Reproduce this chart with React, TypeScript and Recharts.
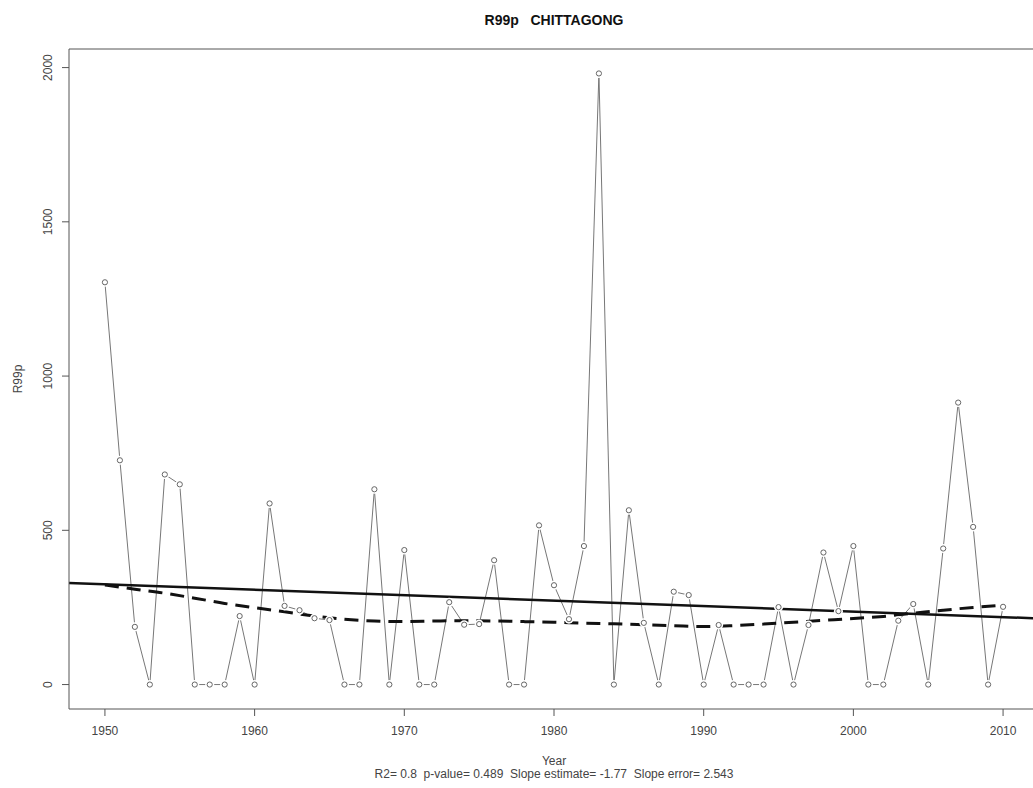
import React from "react";
import { LineChart, Line, XAxis, YAxis, ReferenceLine } from "recharts";

const FONT = '"Liberation Sans", Arial, Helvetica, sans-serif';

const FIRST_YEAR = 1950;

// annual R99p totals, 1950-2010
const R99P = [
  1304, 727, 187, 0, 681, 649, 0, 0, 0, 222,
  0, 587, 255, 241, 215, 209, 0, 0, 633, 0,
  436, 0, 0, 267, 194, 196, 403, 0, 0, 516,
  322, 212, 449, 1981, 0, 565, 200, 0, 301, 290,
  0, 193, 0, 0, 0, 251, 0, 193, 428, 238,
  449, 0, 0, 207, 261, 0, 441, 914, 511, 0,
  252,
];

// smoothed curve (dashed)
const SMOOTH_YEARS = [
  1950, 1952, 1954, 1956, 1958, 1960, 1962, 1964, 1966, 1968, 1970,
  1972, 1974, 1976, 1978, 1980, 1982, 1984, 1986, 1988, 1990,
  1992, 1994, 1996, 1998, 2000, 2002, 2004, 2006, 2008, 2010,
];
const SMOOTH_VALUES = [
  323, 309, 296, 280, 263, 249, 236, 222, 212, 206, 204,
  206, 207, 206, 204, 202, 199, 197, 194, 191, 188,
  191, 196, 202, 208, 214, 221, 231, 241, 250, 257,
];

const X_TICKS = [1950, 1960, 1970, 1980, 1990, 2000, 2010];
const Y_TICKS = [0, 500, 1000, 1500, 2000];

const TREND_SLOPE = -1.77;
const SUBTITLE =
  "R2= 0.8  p-value= 0.489  Slope estimate= -1.77  Slope error= 2.543";

const YEARS = R99P.map((_, i) => FIRST_YEAR + i);
const seriesData = YEARS.map((year, i) => ({ year, value: R99P[i] }));
const smoothData = SMOOTH_YEARS.map((year, i) => ({
  year,
  smooth: SMOOTH_VALUES[i],
}));

// R-style axis ranges: data range padded by 4% on each side
const pad = (lo: number, hi: number): [number, number] => {
  const d = (hi - lo) * 0.04;
  return [lo - d, hi + d];
};
const X_DOMAIN = pad(YEARS[0], YEARS[YEARS.length - 1]);
const Y_DOMAIN = pad(Math.min(...R99P), Math.max(...R99P));

// least-squares line through the means with the reported slope
const meanYear = YEARS.reduce((a, b) => a + b, 0) / YEARS.length;
const meanValue = R99P.reduce((a, b) => a + b, 0) / R99P.length;
const trendData = X_DOMAIN.map((year) => ({
  year,
  trend: meanValue + TREND_SLOPE * (year - meanYear),
}));

const AXIS = "#555";

// open circle with a white halo so the line stops short of each point
const PointDot = (props: any) => {
  const { cx, cy, index } = props;
  if (cx == null || cy == null) return <g key={index} />;
  return (
    <g key={index}>
      <circle cx={cx} cy={cy} r={4.5} fill="#fff" stroke="none" />
      <circle cx={cx} cy={cy} r={2.6} fill="none" stroke="#666" strokeWidth={1} />
    </g>
  );
};

const YTick = (props: any) => {
  const { x, y, payload } = props;
  return (
    <text
      transform={`translate(${x},${y}) rotate(-90)`}
      textAnchor="middle"
      fill="#444"
      fontSize={12}
      fontFamily={FONT}
    >
      {payload.value}
    </text>
  );
};

export default function App() {
  return (
    <div
      style={{
        position: "fixed",
        left: 0,
        top: 0,
        width: 1033,
        height: 788,
        overflow: "hidden",
        background: "#fff",
        fontFamily: FONT,
      }}
    >
      {/* plot box runs past the right edge, so the right margin is negative */}
      <LineChart
        width={1033}
        height={788}
        margin={{ top: 49, right: -6, bottom: 49, left: 0 }}
      >
        <XAxis
          dataKey="year"
          type="number"
          domain={X_DOMAIN}
          ticks={X_TICKS}
          allowDataOverflow
          height={30}
          tickSize={7}
          tickMargin={10}
          axisLine={{ stroke: AXIS }}
          tickLine={{ stroke: AXIS }}
          tick={{ fill: "#444", fontSize: 12, fontFamily: FONT }}
        />
        <YAxis
          type="number"
          domain={Y_DOMAIN}
          ticks={Y_TICKS}
          allowDataOverflow
          width={69}
          tickSize={7}
          tickMargin={10}
          axisLine={{ stroke: AXIS }}
          tickLine={{ stroke: AXIS }}
          tick={<YTick />}
        />
        <ReferenceLine y={Y_DOMAIN[1]} stroke={AXIS} />
        <Line
          data={seriesData}
          dataKey="value"
          type="linear"
          stroke="#777"
          strokeWidth={1}
          dot={<PointDot />}
          activeDot={false}
          isAnimationActive={false}
        />
        <Line
          data={trendData}
          dataKey="trend"
          type="linear"
          stroke="#111"
          strokeWidth={2.5}
          dot={false}
          activeDot={false}
          isAnimationActive={false}
        />
        <Line
          data={smoothData}
          dataKey="smooth"
          type="monotone"
          stroke="#111"
          strokeWidth={3}
          strokeDasharray="14 8"
          dot={false}
          activeDot={false}
          isAnimationActive={false}
        />
      </LineChart>

      <div
        style={{
          position: "absolute",
          left: 354,
          width: 400,
          top: 12,
          textAlign: "center",
          fontWeight: "bold",
          fontSize: 14,
          color: "#111",
          whiteSpace: "pre",
        }}
      >
        {"R99p   CHITTAGONG"}
      </div>
      <div
        style={{
          position: "absolute",
          left: 18,
          top: 379,
          transform: "translate(-50%, -50%) rotate(-90deg)",
          fontSize: 12,
          color: "#444",
        }}
      >
        R99p
      </div>
      <div
        style={{
          position: "absolute",
          left: 254,
          width: 600,
          top: 755,
          textAlign: "center",
          fontSize: 12,
          lineHeight: "13px",
          color: "#444",
          whiteSpace: "pre",
        }}
      >
        {"Year\n" + SUBTITLE}
      </div>
    </div>
  );
}
